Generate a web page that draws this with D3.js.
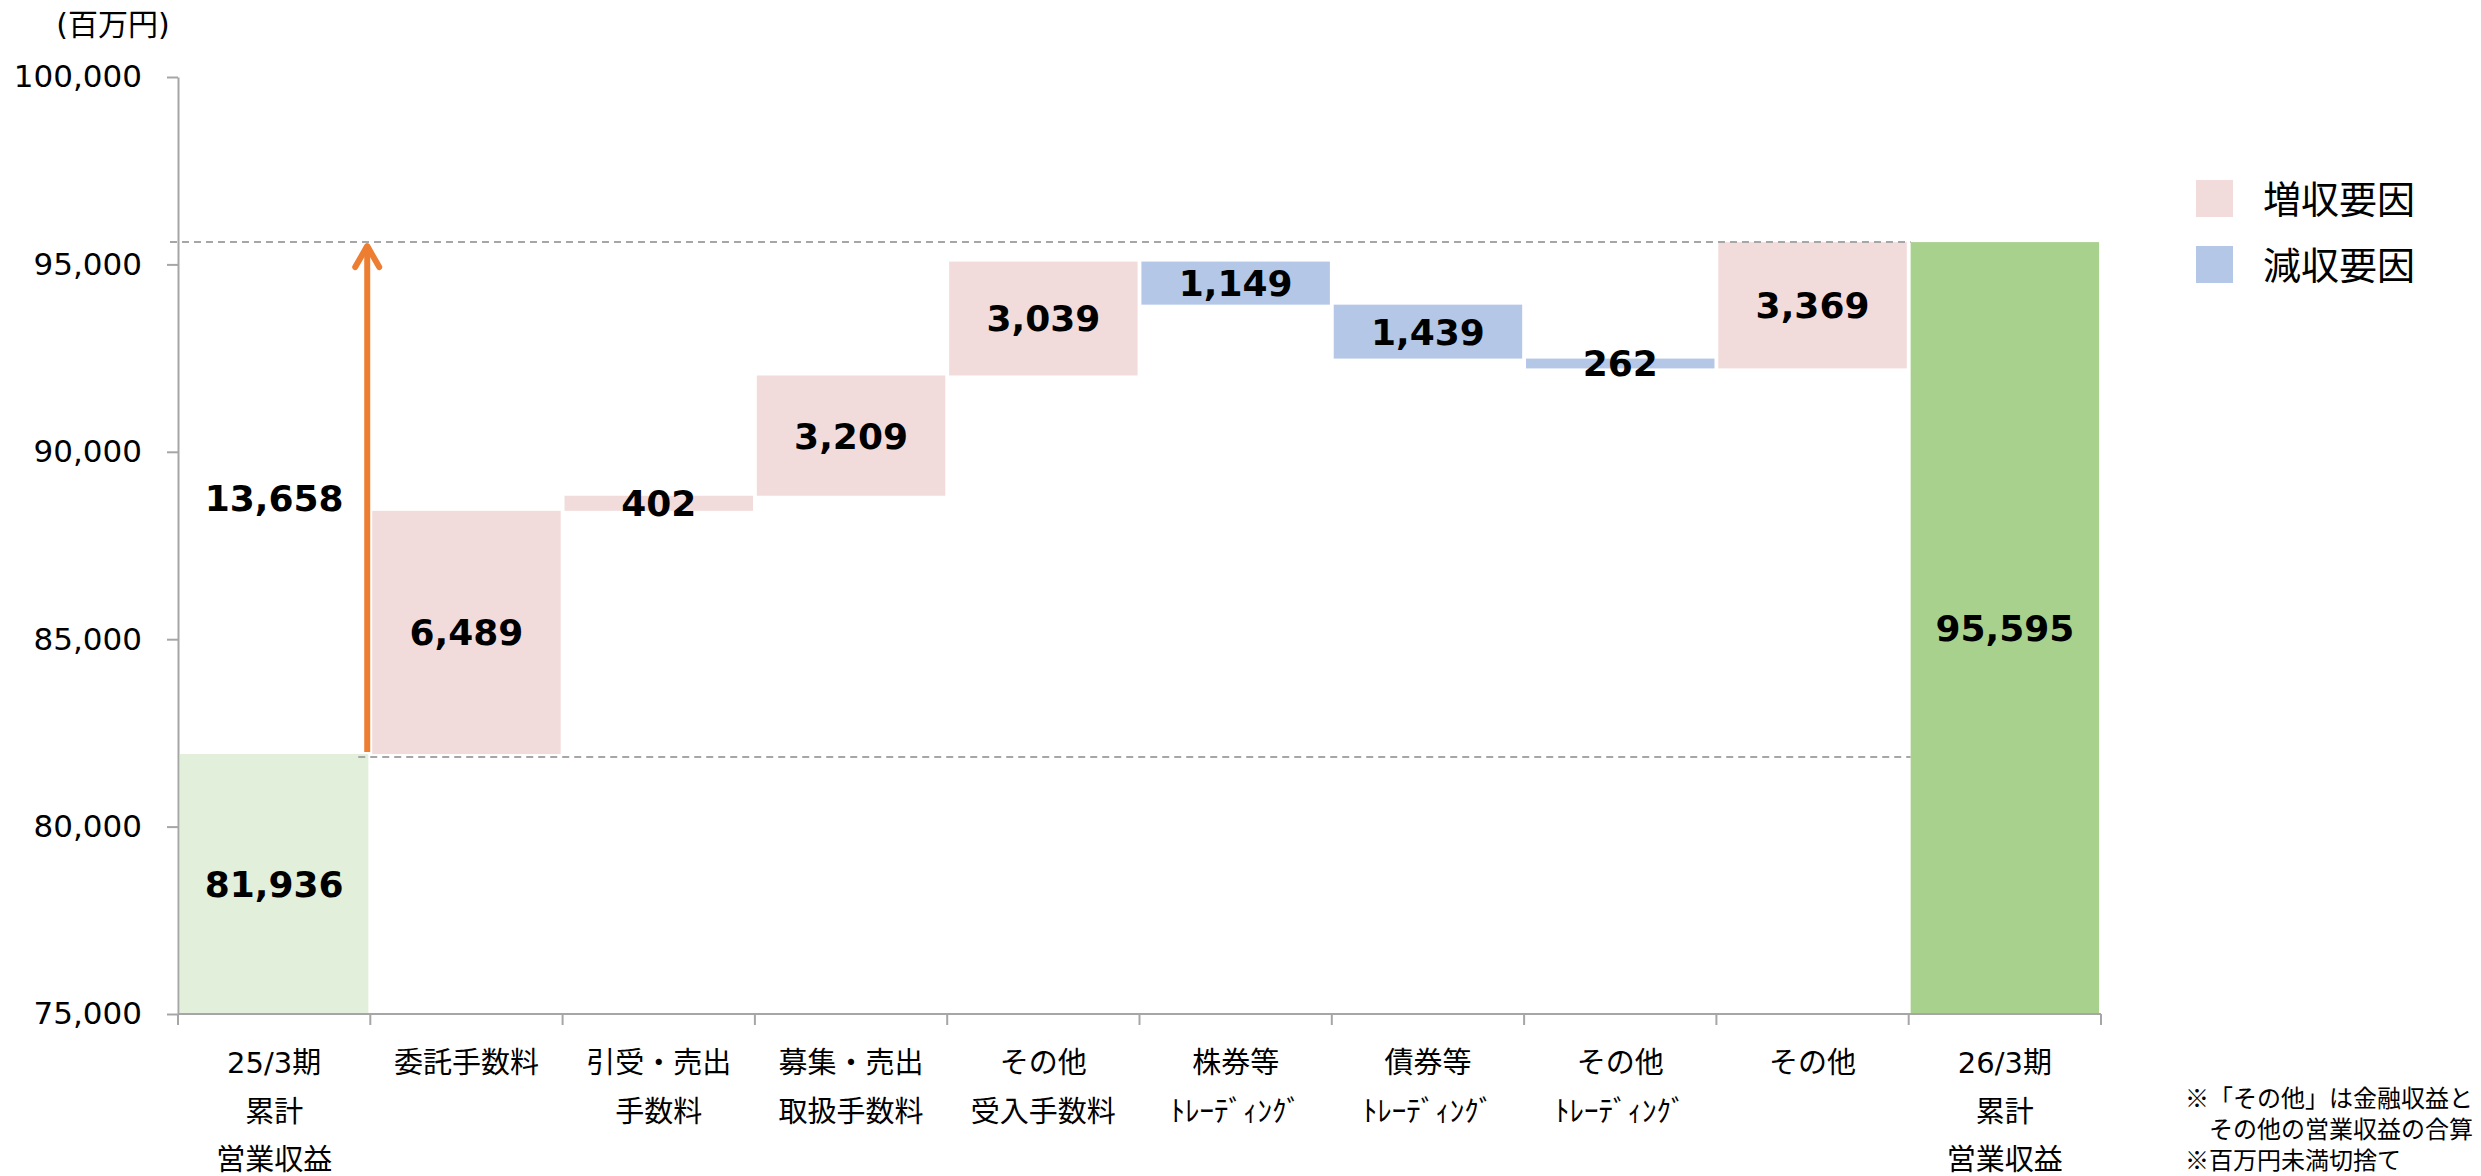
<!DOCTYPE html>
<html>
<head>
<meta charset="utf-8">
<script src="https://cdn.jsdelivr.net/npm/d3@7"></script>
<style>
  html, body { margin: 0; padding: 0; background: #fff; }
  svg { display: block; }
</style>
</head>
<body>
<div id="vis"></div>
<script>
// chart data
const categories = [
  "25/3期\n累計\n営業収益",
  "委託手数料",
  "引受・売出\n手数料",
  "募集・売出\n取扱手数料",
  "その他\n受入手数料",
  "株券等\nﾄﾚｰﾃﾞｨﾝｸﾞ",
  "債券等\nﾄﾚｰﾃﾞｨﾝｸﾞ",
  "その他\nﾄﾚｰﾃﾞｨﾝｸﾞ",
  "その他",
  "26/3期\n累計\n営業収益"
];
const startValue = 81936;
const endValue = 95595;
const deltas = [6489, 402, 3209, 3039, -1149, -1439, -262, 3369];
const totalChange = 13658;
const yTicks = [75000, 80000, 85000, 90000, 95000, 100000];
const legendLabels = ["増収要因", "減収要因"];
const unitLabel = "(百万円)";
const notes = ["※「その他」は金融収益と", "　その他の営業収益の合算", "※百万円未満切捨て"];

const W = 2481, H = 1176;
const colors = {
  up: "#f2dcdb", down: "#b4c7e7", start: "#e2efda", end: "#a9d18e",
  arrow: "#ed7d31", axis: "#a6a6a6", text: "#000"
};
const numFont = "'DejaVu Sans', Verdana, sans-serif";
const jpFont = "'DejaVu Sans', 'Noto Sans CJK JP', sans-serif";

// build waterfall rows
let rows = [];
rows.push({ i: 0, lo: yTicks[0], hi: startValue, label: startValue, fill: colors.start });
let run = startValue;
deltas.forEach((d, k) => {
  const lo = Math.min(run, run + d), hi = Math.max(run, run + d);
  rows.push({ i: k + 1, lo: lo, hi: hi, label: Math.abs(d), fill: d >= 0 ? colors.up : colors.down });
  run += d;
});
rows.push({ i: categories.length - 1, lo: yTicks[0], hi: endValue, label: endValue, fill: colors.end });

const plotLeft = 178, plotRight = 2101, plotTop = 77, plotBottom = 1014;

const x = d3.scaleBand()
  .domain(d3.range(categories.length))
  .range([plotLeft, plotRight])
  .paddingInner(0.02)
  .paddingOuter(0.01);

const y = d3.scaleLinear()
  .domain([yTicks[0], yTicks[yTicks.length - 1]])
  .range([plotBottom, plotTop]);

const fmt = d3.format(",");

const svg = d3.select("#vis").append("svg")
  .attr("width", W)
  .attr("height", H);

// bars
svg.append("g").selectAll("rect")
  .data(rows)
  .join("rect")
  .attr("x", d => x(d.i))
  .attr("width", x.bandwidth())
  .attr("y", d => y(d.hi))
  .attr("height", d => y(d.lo) - y(d.hi))
  .attr("fill", d => d.fill);

// dashed reference lines
const lastX = x(categories.length - 1);
svg.append("line")
  .attr("x1", plotLeft - 8).attr("x2", lastX)
  .attr("y1", y(endValue)).attr("y2", y(endValue))
  .attr("stroke", colors.axis).attr("stroke-width", 2)
  .attr("stroke-dasharray", "7,5");
svg.append("line")
  .attr("x1", x(1) - 14).attr("x2", lastX)
  .attr("y1", y(startValue) + 3).attr("y2", y(startValue) + 3)
  .attr("stroke", colors.axis).attr("stroke-width", 2)
  .attr("stroke-dasharray", "7,5");

// y axis
const yAxis = svg.append("g")
  .attr("transform", `translate(${plotLeft},0)`)
  .call(d3.axisLeft(y).tickValues(yTicks).tickFormat(fmt).tickSize(11).tickSizeOuter(0).tickPadding(25));
yAxis.select(".domain").attr("stroke", colors.axis).attr("stroke-width", 2);
yAxis.selectAll(".tick line").attr("stroke", colors.axis).attr("stroke-width", 2);
yAxis.selectAll(".tick text")
  .attr("fill", colors.text)
  .style("font-family", numFont)
  .style("font-size", "31px");

// x axis
const xAxis = svg.append("g");
xAxis.append("line")
  .attr("x1", plotLeft).attr("x2", plotRight)
  .attr("y1", plotBottom).attr("y2", plotBottom)
  .attr("stroke", colors.axis).attr("stroke-width", 2);
xAxis.selectAll("line.tk")
  .data(d3.range(categories.length + 1))
  .join("line")
  .attr("class", "tk")
  .attr("x1", i => plotLeft + i * x.step()).attr("x2", i => plotLeft + i * x.step())
  .attr("y1", plotBottom).attr("y2", plotBottom + 11)
  .attr("stroke", colors.axis).attr("stroke-width", 2);

const catText = xAxis.selectAll("text")
  .data(categories)
  .join("text")
  .attr("text-anchor", "middle")
  .attr("fill", colors.text)
  .style("font-family", jpFont)
  .style("font-size", "29px");
catText.each(function(c, i) {
  const t = d3.select(this);
  c.split("\n").forEach((ln, j) => {
    t.append("tspan")
      .attr("x", x(i) + x.bandwidth() / 2)
      .attr("y", 1063 + j * 48.5)
      .attr("dy", "0.35em")
      .text(ln);
  });
});

// value labels
svg.append("g").selectAll("text")
  .data(rows)
  .join("text")
  .attr("x", d => x(d.i) + x.bandwidth() / 2)
  .attr("y", d => (y(d.lo) + y(d.hi)) / 2)
  .attr("dy", "0.36em")
  .attr("text-anchor", "middle")
  .attr("fill", colors.text)
  .style("font-family", numFont)
  .style("font-weight", "bold")
  .style("font-size", "36px")
  .text(d => fmt(d.label));

// total change arrow
const ax = x(1) - 5;
const yA = y(startValue) - 2, yB = y(endValue) + 2;
svg.append("line")
  .attr("x1", ax).attr("x2", ax)
  .attr("y1", yA).attr("y2", yB + 3)
  .attr("stroke", colors.arrow).attr("stroke-width", 6);
svg.append("polyline")
  .attr("points", `${ax - 12},${yB + 23} ${ax},${yB + 2} ${ax + 12},${yB + 23}`)
  .attr("fill", "none")
  .attr("stroke", colors.arrow).attr("stroke-width", 6)
  .attr("stroke-linecap", "round").attr("stroke-linejoin", "round");
svg.append("text")
  .attr("x", x(0) + x.bandwidth() / 2)
  .attr("y", (yA + yB) / 2)
  .attr("dy", "0.36em")
  .attr("text-anchor", "middle")
  .attr("fill", colors.text)
  .style("font-family", numFont)
  .style("font-weight", "bold")
  .style("font-size", "36px")
  .text(fmt(totalChange));

// unit label
svg.append("text")
  .attr("x", 113).attr("y", 24).attr("dy", "0.35em")
  .attr("text-anchor", "middle")
  .attr("fill", colors.text)
  .style("font-family", jpFont)
  .style("font-size", "30px")
  .text(unitLabel);

// legend
const legend = svg.append("g").attr("transform", "translate(2196,180)");
legendLabels.forEach((lb, k) => {
  legend.append("rect")
    .attr("x", 0).attr("y", k * 66)
    .attr("width", 37).attr("height", 37)
    .attr("fill", k === 0 ? colors.up : colors.down);
  legend.append("text")
    .attr("x", 67).attr("y", k * 66 + 19).attr("dy", "0.36em")
    .attr("fill", colors.text)
    .style("font-family", "'Noto Sans CJK JP', sans-serif")
    .style("font-size", "38px")
    .text(lb);
});

// footnotes
svg.append("g").selectAll("text")
  .data(notes)
  .join("text")
  .attr("x", 2185)
  .attr("y", (d, k) => 1098 + k * 31)
  .attr("dy", "0.36em")
  .attr("fill", colors.text)
  .style("font-family", "'Noto Sans CJK JP', sans-serif")
  .style("font-size", "24px")
  .text(d => d);
</script>
</body>
</html>
